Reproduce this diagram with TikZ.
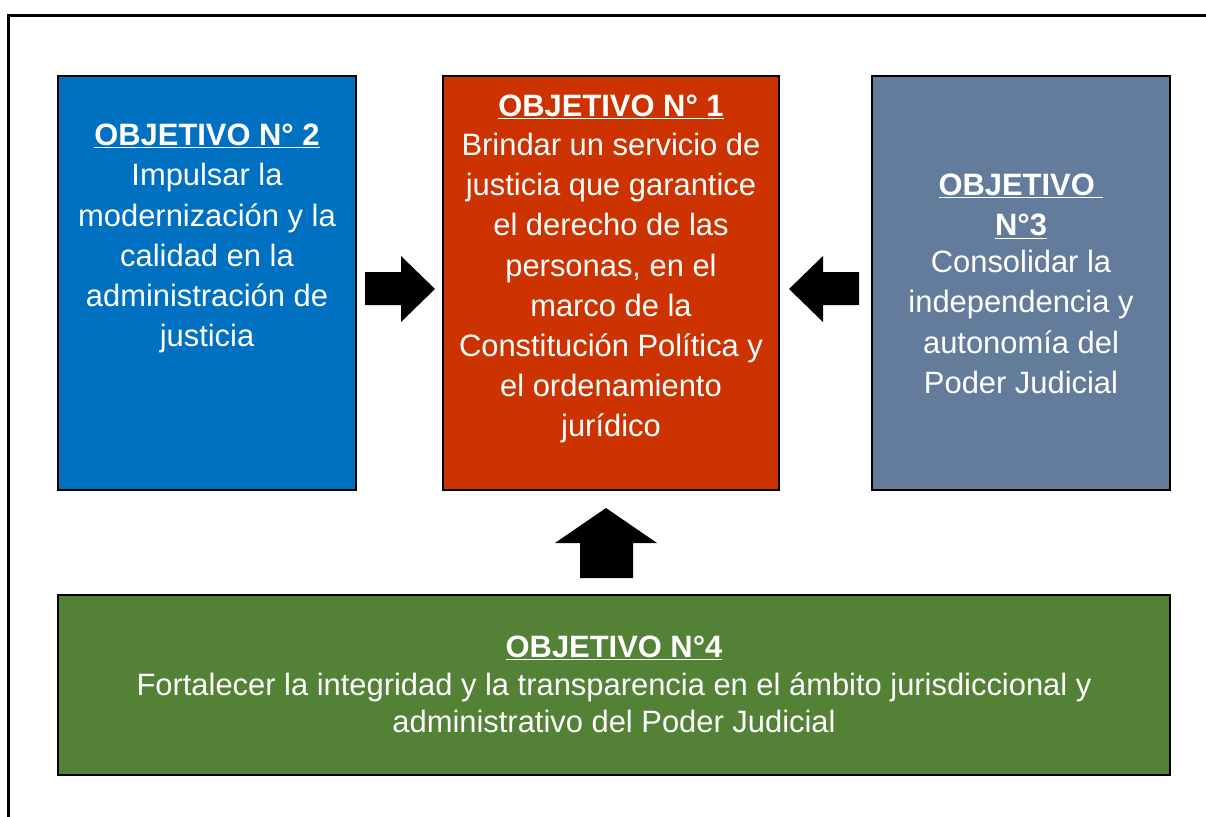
\documentclass[tikz,border=0pt]{standalone}
\usepackage{fontspec}
\setmainfont{Liberation Sans}
\definecolor{cblue}{HTML}{0070C0}
\definecolor{cred}{HTML}{CC3300}
\definecolor{cslate}{HTML}{647C9B}
\definecolor{cgreen}{HTML}{538135}
\tikzset{
  objbox/.style={draw=black, line width=2pt, rectangle, inner sep=0pt},
  objtext/.style={anchor=north, inner sep=0pt, align=center, text=white,
    font=\fontsize{30.9}{40.2}\selectfont},
  blockarrow/.style={fill=black, draw=none}
}
\newcommand{\objhead}[1]{\textbf{\underline{#1}}}
\begin{document}
\begin{tikzpicture}[x=1pt,y=-1pt]
\useasboundingbox (0,0) rectangle (1206,816);
\fill[white] (0,0) rectangle (1206,816);
\draw[line width=3pt] (8.5,15.5) rectangle (1230,840);
% boxes
\node[objbox, fill=cblue, minimum width=298pt, minimum height=414pt] (o2) at (207,283) {};
\node[objbox, fill=cred, minimum width=336pt, minimum height=414pt] (o1) at (611,283) {};
\node[objbox, fill=cslate, minimum width=298pt, minimum height=414pt] (o3) at (1021,283) {};
\node[objbox, fill=cgreen, minimum width=1112pt, minimum height=180pt] (o4) at (614,685) {};
% texts
\node[objtext] (t2) at (207,124) {\objhead{OBJETIVO N° 2}\\Impulsar la\\modernización y la\\calidad en la\\administración de\\justicia};
\node[objtext] (t1) at (611,95) {\objhead{OBJETIVO N° 1}\\[-1.5pt]Brindar un servicio de\\justicia que garantice\\el derecho de las\\personas, en el\\marco de la\\Constitución Política y\\el ordenamiento\\jurídico};
\node[objtext] (t3) at (1021,174) {\objhead{OBJETIVO\ }\\\objhead{N°3}\\[-3.5pt]Consolidar la\\independencia y\\autonomía del\\Poder Judicial};
\node[objtext, font=\fontsize{30.9}{37.5}\selectfont] (t4) at (614,636) {\objhead{OBJETIVO N°4}\\Fortalecer la integridad y la transparencia en el ámbito jurisdiccional y\\administrativo del Poder Judicial};
% block arrows
\fill[blockarrow] (365,272) -- (401,272) -- (401,256) -- (435,289) -- (401,322) -- (401,305) -- (365,305) -- cycle;
\fill[blockarrow] (859,272) -- (823,272) -- (823,256) -- (789,289) -- (823,322) -- (823,305) -- (859,305) -- cycle;
\fill[blockarrow] (580,578) -- (580,543) -- (555,543) -- (606,508) -- (657,543) -- (633,543) -- (633,578) -- cycle;
\end{tikzpicture}
\end{document}
